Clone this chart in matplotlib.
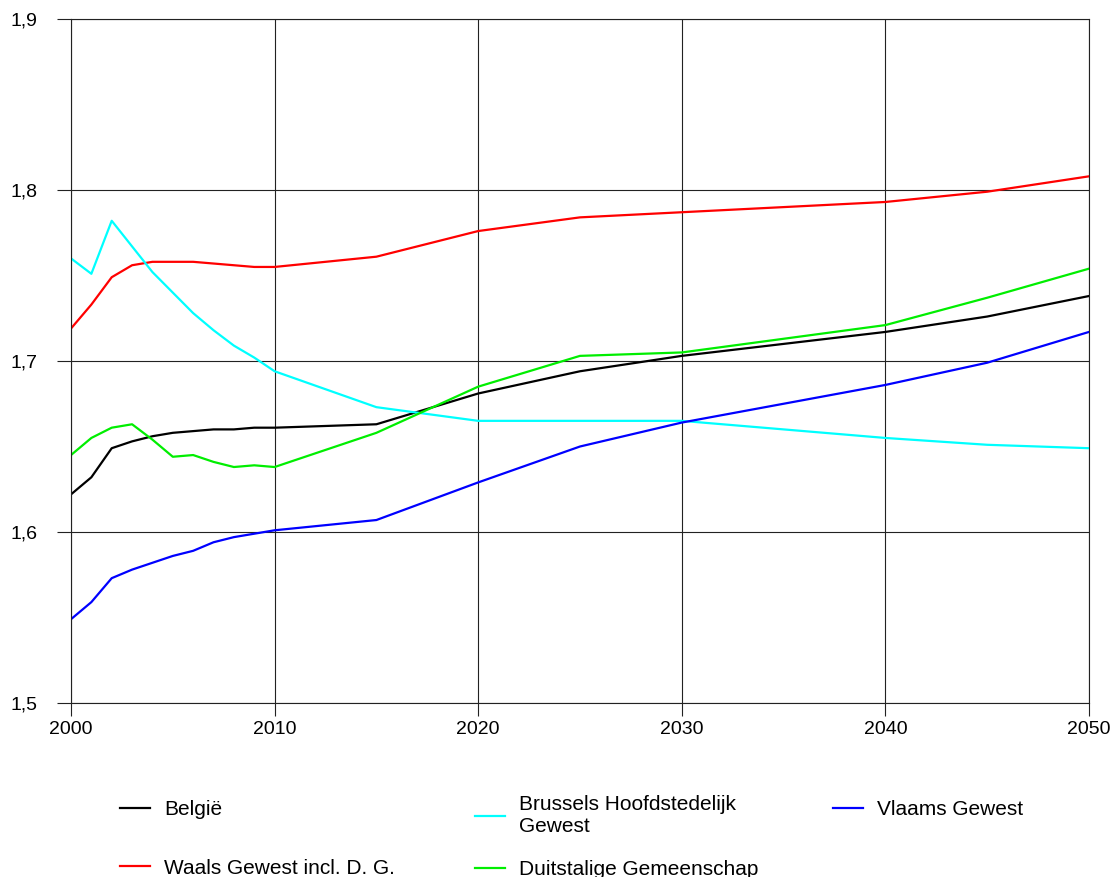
import matplotlib
matplotlib.use("Agg")
import matplotlib.pyplot as plt

plt.rcParams['font.family'] = ['Liberation Sans', 'DejaVu Sans']

# years where the series have points
years = [2000, 2001, 2002, 2003, 2004, 2005, 2006, 2007, 2008, 2009, 2010,
         2015, 2020, 2025, 2030, 2040, 2045, 2050]

belgie = [1.622, 1.632, 1.649, 1.653, 1.656, 1.658, 1.659, 1.660, 1.660, 1.661, 1.661,
          1.663, 1.681, 1.694, 1.703, 1.717, 1.726, 1.738]
waals = [1.719, 1.733, 1.749, 1.756, 1.758, 1.758, 1.758, 1.757, 1.756, 1.755, 1.755,
         1.761, 1.776, 1.784, 1.787, 1.793, 1.799, 1.808]
brussel = [1.760, 1.751, 1.782, 1.767, 1.752, 1.740, 1.728, 1.718, 1.709, 1.702, 1.694,
           1.673, 1.665, 1.665, 1.665, 1.655, 1.651, 1.649]
duits = [1.645, 1.655, 1.661, 1.663, 1.654, 1.644, 1.645, 1.641, 1.638, 1.639, 1.638,
         1.658, 1.685, 1.703, 1.705, 1.721, 1.737, 1.754]
vlaams = [1.549, 1.559, 1.573, 1.578, 1.582, 1.586, 1.589, 1.594, 1.597, 1.599, 1.601,
          1.607, 1.629, 1.650, 1.664, 1.686, 1.699, 1.717]

xticks = [2000, 2010, 2020, 2030, 2040, 2050]
yticks = [1.5, 1.6, 1.7, 1.8, 1.9]
ylabels = ["1,5", "1,6", "1,7", "1,8", "1,9"]

fig = plt.figure(figsize=(11.18, 8.77), dpi=100)
ax = fig.add_axes([71/1118, 1-703/877, 1018/1118, 684/877])

lw = 1.6
l_be, = ax.plot(years, belgie, color="black", lw=lw, label="België")
l_wa, = ax.plot(years, waals, color="#ff0000", lw=lw, label="Waals Gewest incl. D. G.")
l_br, = ax.plot(years, brussel, color="#00ffff", lw=lw, label="Brussels Hoofdstedelijk\nGewest")
l_du, = ax.plot(years, duits, color="#00ee00", lw=lw, label="Duitstalige Gemeenschap")
l_vl, = ax.plot(years, vlaams, color="#0000ff", lw=lw, label="Vlaams Gewest")

ax.set_xlim(2000, 2050)
ax.set_ylim(1.5, 1.9)
ax.set_xticks(xticks)
ax.set_yticks(yticks)
ax.set_yticklabels(ylabels)
ax.grid(True, color="#222222", lw=0.8)
ax.set_axisbelow(True)
for s in ax.spines.values():
    s.set_color("#222222")
    s.set_linewidth(0.8)
ax.tick_params(axis="x", length=9, width=0.8, color="#222222", pad=4, labelsize=14)
ax.tick_params(axis="y", length=10, width=0.8, color="#222222", pad=14, labelsize=14)

# legend in three columns
common = dict(frameon=False, fontsize=15, handlelength=1.45, handletextpad=0.67,
              borderpad=0, borderaxespad=0, loc="upper left")
leg1 = fig.legend([l_be, l_wa], [l_be.get_label(), l_wa.get_label()],
                  bbox_to_anchor=(120/1118, 1-800/877), labelspacing=1.9, **common)
leg2 = fig.legend([l_br, l_du], [l_br.get_label(), l_du.get_label()],
                  bbox_to_anchor=(475/1118, 1-795/877), labelspacing=1.15, **common)
leg3 = fig.legend([l_vl], [l_vl.get_label()],
                  bbox_to_anchor=(833/1118, 1-800/877), **common)

fig.savefig("out.png", dpi=100)
